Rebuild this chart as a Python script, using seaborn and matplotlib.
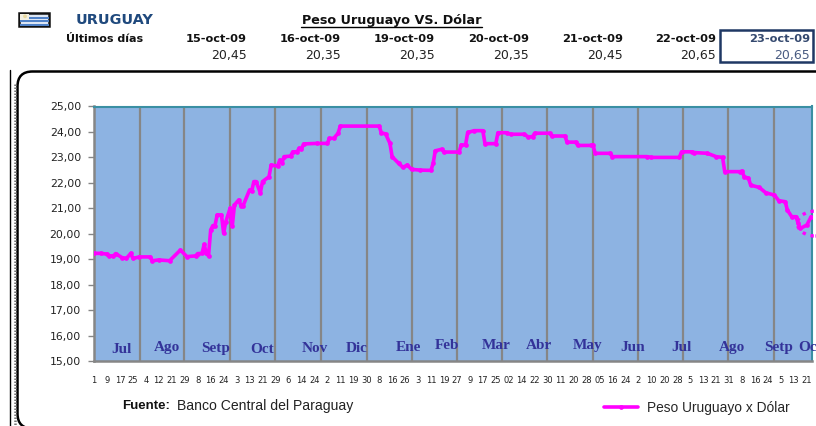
import numpy as np
import pandas as pd
import matplotlib
matplotlib.use("Agg")
import matplotlib.pyplot as plt
import seaborn as sns
from matplotlib.patches import Rectangle, FancyBboxPatch, Ellipse, Circle

# Data
header_dates = ["15-oct-09", "16-oct-09", "19-oct-09", "20-oct-09", "21-oct-09", "22-oct-09", "23-oct-09"]
header_values = ["20,45", "20,35", "20,35", "20,35", "20,45", "20,65", "20,65"]

day_index = [0, 3, 6, 7, 9, 10, 13, 15, 17, 18, 21, 26, 27, 30, 35, 40, 43, 47, 48, 50, 51, 52, 53, 54, 55,
             56, 57, 59, 60, 61, 63, 64, 65, 67, 68, 69, 72, 73, 74, 75, 77, 78, 81, 82, 85, 86, 87, 88, 91,
             92, 94, 95, 96, 97, 103, 108, 109, 111, 113, 114, 132, 133, 135, 137, 138, 141, 143, 145, 147,
             151, 156, 157, 158, 161, 162, 169, 170, 172, 173, 176, 180, 181, 186, 187, 191, 193, 199, 201,
             203, 204, 211, 212, 218, 219, 223, 224, 230, 231, 232, 239, 240, 256, 258, 271, 272, 277, 278,
             284, 288, 291, 292, 299, 300, 301, 303, 304, 308, 311, 315, 317, 320, 321, 323, 325, 326, 327,
             330, 332]
rate = [19.23, 19.23, 19.20, 19.13, 19.13, 19.22, 19.06, 19.03, 19.23, 19.03, 19.09, 19.09, 18.94, 18.97,
        18.94, 19.36, 19.10, 19.13, 19.22, 19.23, 19.58, 19.23, 19.13, 20.15, 20.32,
        20.32, 20.74, 20.74, 20.02, 20.47, 21.00, 20.30, 21.13, 21.33, 21.10, 21.10, 21.72, 21.68, 22.05,
        22.05, 21.61, 22.05, 22.24, 22.70, 22.66, 22.90, 22.79, 23.03, 23.05,
        23.22, 23.22, 23.36, 23.32, 23.53, 23.55, 23.55, 23.75, 23.75, 23.95, 24.23, 24.23, 23.97, 23.92,
        23.55, 23.03, 22.77, 22.61, 22.70, 22.53,
        22.50, 22.49, 22.77, 23.26, 23.32, 23.21, 23.21, 23.49, 23.49, 23.98, 24.05, 24.05, 23.54, 23.54,
        23.97, 23.97, 23.91, 23.91, 23.81,
        23.81, 23.95, 23.95, 23.84, 23.84, 23.60, 23.60, 23.47, 23.47, 23.49, 23.16, 23.16, 23.03, 23.03,
        23.00, 23.00, 23.22, 23.22, 23.19,
        23.16, 23.03, 23.00, 22.44, 22.44, 22.46, 22.24, 22.18, 21.91, 21.82, 21.61, 21.52, 21.30, 21.26,
        20.93, 20.67, 20.67, 20.41, 20.21,
        20.34, 20.67]

tick_labels = ["1", "9", "17", "25", "4", "12", "21", "29", "8", "16", "24", "3", "13", "21", "29", "6", "14",
               "24", "2", "11", "19", "30", "8", "16", "26", "3", "11", "19", "27", "9", "17", "25", "02",
               "14", "22", "30", "11", "20", "28", "05", "16", "24", "2", "10", "20", "28", "5", "13", "21",
               "31", "8", "16", "24", "5", "13", "21"]
y_ticks = [15, 16, 17, 18, 19, 20, 21, 22, 23, 24, 25]

month_names = ["Jul", "Ago", "Setp", "Oct", "Nov", "Dic", "Ene", "Feb", "Mar", "Abr", "May", "Jun", "Jul",
               "Ago", "Setp", "Oc"]
month_centres = [12.5, 33.8, 56.5, 77.8, 102.3, 121.8, 145.8, 163.4, 186, 206, 228.7, 249.5, 272.2, 295.4,
                 317, 330.3]
month_heights = [15.47, 15.55, 15.51, 15.47, 15.51, 15.51, 15.55, 15.59, 15.59, 15.59, 15.59, 15.55, 15.55,
                 15.55, 15.55, 15.55]
month_breaks = [21.3, 41.7, 63, 83.8, 105, 126.4, 147.2, 168, 188.9, 209.7, 231, 251.9, 272.7, 293.5, 314.8]

sns.set_theme(style="white")
plt.rcParams["font.family"] = ["DejaVu Sans"]

W, H = 816, 426
fig = plt.figure(figsize=(W / 100, H / 100), dpi=100, facecolor="white")

# overlay in pixel coordinates for the sheet around the chart
bg = fig.add_axes([0, 0, 1, 1])
bg.set_xlim(0, W)
bg.set_ylim(H, 0)
bg.axis("off")

# flag
bg.add_patch(Rectangle((18.5, 13), 30.5, 13, fc="#DCE6F4", ec="#111111", lw=1.8))
for y0 in [16.5, 20, 23.5]:
    bg.add_patch(Rectangle((19.5, y0), 29, 2, fc="#4F81C7", ec="none"))
bg.add_patch(Rectangle((20, 14), 9, 6, fc="#F2EFE0", ec="none"))
bg.add_patch(Circle((25, 16.3), 1.9, fc="#E8D9A0", ec="none"))

bg.text(76, 20, "URUGUAY", color="#1F497D", fontsize=10.4, fontweight="bold", va="center", ha="left")
bg.text(391.5, 20.5, "Peso Uruguayo VS. Dólar", color="#111111", fontsize=9.2, fontweight="bold", va="center", ha="center")
bg.plot([301, 482], [26.5, 26.5], color="black", lw=1)
bg.text(143, 38.5, "Últimos días", color="#111111", fontsize=8, fontweight="bold", va="center", ha="right")

col_right = [247, 341, 435, 529, 623, 716, 810]
for i, (d, v) in enumerate(zip(header_dates, header_values)):
    c1 = "#34496F" if i == 6 else "#111111"
    c2 = "#4A5C82" if i == 6 else "#222222"
    bg.text(col_right[i], 38.5, d, color=c1, fontsize=8.2, fontweight="bold", va="center", ha="right")
    bg.text(col_right[i], 55, v, color=c2, fontsize=9, va="center", ha="right")
bg.add_patch(Rectangle((720, 29.5), 93, 32, fc="none", ec="#1F3864", lw=1.8))

# sheet gutter and chart frame
bg.plot([9.8, 9.8], [70, 426], color="black", lw=1)
bg.plot([15, 15], [84, 426], color="#777777", lw=1.8, ls=(0, (0.6, 0.6)))
bg.add_patch(FancyBboxPatch((17.5, 71.5), 900, 357, boxstyle="round,pad=0,rounding_size=15",
                            fc="white", ec="black", lw=1.8, mutation_aspect=1))

ax = fig.add_axes([93.5 / W, 1 - 361 / H, (812 - 93.5) / W, (361 - 106.5) / H])
ax.set_facecolor("#8DB3E2")

df = pd.DataFrame({"dia": day_index, "cambio": rate})
sns.lineplot(data=df, x="dia", y="cambio", ax=ax, color="#FF00FF", lw=2.6, marker="o", markersize=3.4,
             markeredgewidth=0, estimator=None, sort=False, label="Peso Uruguayo x Dólar", zorder=5)

for b in month_breaks:
    ax.axvline(b, color="#868686", lw=1.6, zorder=2)

ax.set_xlim(-0.25, 332.4)
ax.set_ylim(15, 25)
ax.set_yticks(y_ticks)
ax.set_yticklabels([f"{t:.2f}".replace(".", ",") for t in y_ticks], fontsize=7.8, color="#222222")
ax.set_xticks(np.arange(len(tick_labels)) * 6)
ax.set_xticklabels(tick_labels, fontsize=6, color="#222222")
ax.tick_params(axis="y", length=4, width=1, color="#868686", pad=5, left=True)
ax.tick_params(axis="x", length=0, pad=10.5)
ax.set_xlabel("")
ax.set_ylabel("")

for side in ["left", "bottom"]:
    ax.spines[side].set_color("#868686")
    ax.spines[side].set_linewidth(1.8)
for side in ["top", "right"]:
    ax.spines[side].set_color("#3A8FA3")
    ax.spines[side].set_linewidth(1.5)

for name, xc, yc in zip(month_names, month_centres, month_heights):
    ax.text(xc, yc, name, color="#333399", fontsize=11, fontweight="bold", family="Liberation Serif",
            ha="center", va="center", zorder=6, clip_on=False)

# hand-drawn dotted ring around the last rates
ax.add_patch(Ellipse((334, 20.40), 16.7, 0.98, fc="none", ec="#FF00FF", lw=2.4, ls=(0, (1, 1.5)),
                     clip_on=False, zorder=6))

bg.text(122, 406, "Fuente:", color="#111111", fontsize=9.5, fontweight="bold", family="Liberation Sans", va="center")
bg.text(177, 406, "Banco Central del Paraguay", color="#222222", fontsize=10.1, family="Liberation Sans", va="center")

leg = ax.legend(loc="center left", bbox_to_anchor=(604 / W, 1 - 408 / H), bbox_transform=fig.transFigure,
                frameon=False, handlelength=2.5, handletextpad=0.6, borderpad=0, borderaxespad=0,
                prop={"family": "Liberation Sans", "size": 9.9})

fig.savefig("out.png", dpi=100)
